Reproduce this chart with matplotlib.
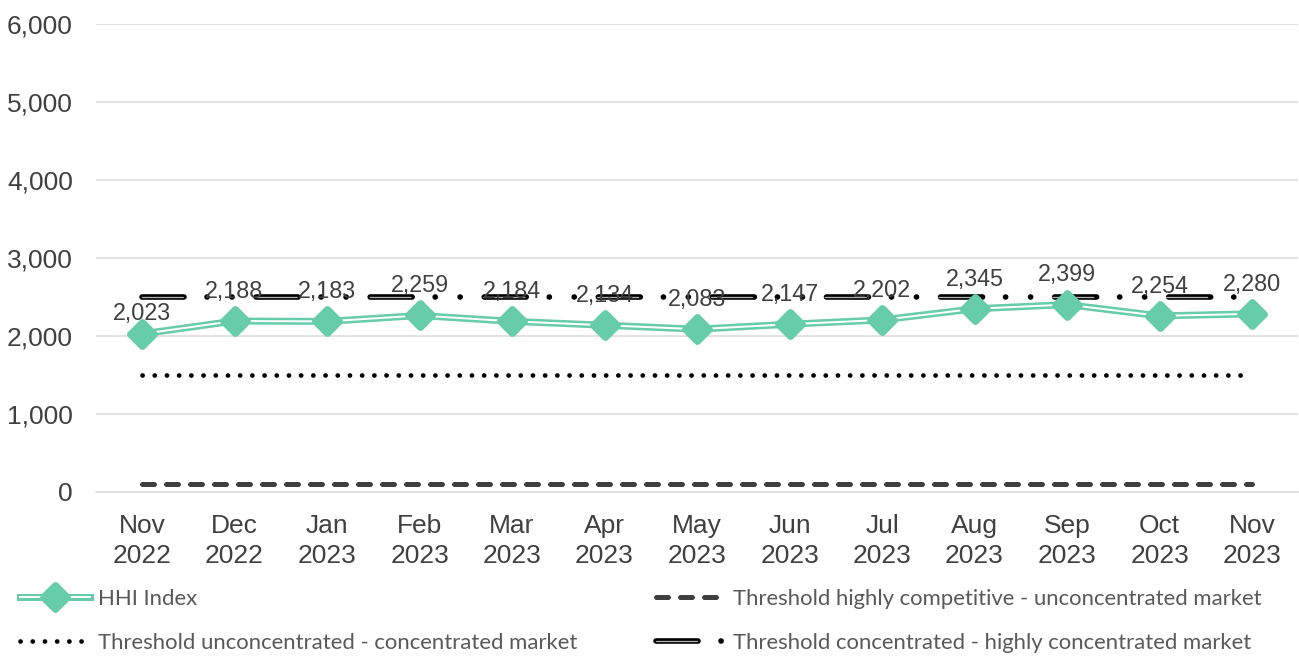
import matplotlib
matplotlib.use("Agg")
import matplotlib.pyplot as plt
from matplotlib.markers import MarkerStyle
from matplotlib.ticker import FuncFormatter

plt.rcParams['lines.scale_dashes'] = False

# ---------------- data ----------------
months = ["Nov\n2022", "Dec\n2022", "Jan\n2023", "Feb\n2023", "Mar\n2023", "Apr\n2023",
          "May\n2023", "Jun\n2023", "Jul\n2023", "Aug\n2023", "Sep\n2023", "Oct\n2023",
          "Nov\n2023"]
hhi = [2023, 2188, 2183, 2259, 2184, 2134, 2083, 2147, 2202, 2345, 2399, 2254, 2280]
thr_competitive = [100] * 13
thr_unconcentrated = [1500] * 13
thr_concentrated = [2500] * 13
y_ticks = [0, 1000, 2000, 3000, 4000, 5000, 6000]

labels = ["HHI Index",
          "Threshold highly competitive - unconcentrated market",
          "Threshold unconcentrated - concentrated market",
          "Threshold concentrated - highly concentrated market"]

# ---------------- style ----------------
W, H = 1299, 657
PX = 0.72  # points per pixel at 100 dpi
GREEN = "#66CCAA"
TXT = "#404040"
LEGTXT = "#595959"
GRID = "#D9D9D9"

fig = plt.figure(figsize=(W / 100, H / 100), dpi=100)
ax_l, ax_r, ax_t, ax_b = 95.75, 1298.25, 24, 491.5
ax = fig.add_axes([ax_l / W, 1 - ax_b / H, (ax_r - ax_l) / W, (ax_b - ax_t) / H])

x = list(range(len(months)))

# threshold highly competitive (dashed)
l_comp, = ax.plot(x, thr_competitive, color="#404040", lw=5 * PX,
                  linestyle=(0, (12 * PX, 12 * PX)), dash_capstyle="round", zorder=3)
# threshold unconcentrated (dotted)
l_unc, = ax.plot(x, thr_unconcentrated, color="black", lw=4.7 * PX,
                 linestyle=(0, (0.1, 12.2 * PX - 0.1)), dash_capstyle="round", zorder=3)
# threshold concentrated (double dash-dot-dot)
l_con_a, = ax.plot(x, thr_concentrated, color="black", lw=5.6 * PX,
                   linestyle=(0, (42 * PX, 23 * PX, 0.1, 24.8 * PX, 0.1, 24 * PX)),
                   dash_capstyle="round", zorder=3)
l_con_b, = ax.plot(x, thr_concentrated, color="#B0B0B0", lw=1.3 * PX,
                   linestyle=(0, (41 * PX, 72.8 * PX)), dash_capstyle="round", zorder=3.1)

# HHI line (double green line with diamonds)
diamond = MarkerStyle("D", joinstyle="round")
l_h1, = ax.plot(x, hhi, color=GREEN, lw=7 * PX, solid_joinstyle="round", zorder=4)
l_h2, = ax.plot(x, hhi, color="white", lw=2 * PX, solid_joinstyle="round", zorder=4.1)
l_h3, = ax.plot(x, hhi, color=GREEN, lw=0, linestyle="none", marker=diamond,
                markersize=12.2, markeredgewidth=5, markeredgecolor=GREEN, zorder=4.2)

# data labels
for i, v in enumerate(hhi):
    off = 10.2 if i == 0 else 16.7
    ax.annotate(f"{v:,}", (i, v), xytext=(0, off), textcoords="offset points",
                ha="center", va="baseline", fontsize=16.8,
                family="Liberation Sans", color=TXT, zorder=5)

# axes
ax.set_xlim(-0.5, len(months) - 0.5)
ax.set_ylim(0, 6000)
ax.set_yticks(y_ticks)
ax.yaxis.set_major_formatter(FuncFormatter(lambda v, p: f"{v:,.0f}"))
ax.set_xticks(x)
ax.set_xticklabels(months, linespacing=1.32)
ax.tick_params(axis="y", length=0, pad=16.4, labelsize=19, labelcolor=TXT)
ax.tick_params(axis="x", length=0, pad=16, labelsize=19, labelcolor=TXT)
for lab in ax.get_xticklabels() + ax.get_yticklabels():
    lab.set_family("Liberation Sans")
ax.grid(axis="y", color=GRID, lw=1.5 * PX)
ax.set_axisbelow(True)
for s in ("top", "right", "left"):
    ax.spines[s].set_visible(False)
ax.spines["bottom"].set_color(GRID)
ax.spines["bottom"].set_linewidth(1.5 * PX)

# legends
leg_fs = 15.9
common = dict(loc="upper left", frameon=False, borderpad=0, borderaxespad=0,
              handlelength=70 / (leg_fs / PX), handletextpad=0.36,
              labelspacing=1.08, numpoints=1,
              prop={"family": "Lato", "size": leg_fs}, labelcolor=LEGTXT)
fig.legend([(l_h1, l_h2, l_h3), l_unc], [labels[0], labels[2]],
           bbox_to_anchor=(20 / W, 1 - 589 / H), **common)
fig.legend([l_comp, (l_con_a, l_con_b)], [labels[1], labels[3]],
           bbox_to_anchor=(655.5 / W, 1 - 589 / H), **common)

fig.savefig("out.png", dpi=100)
